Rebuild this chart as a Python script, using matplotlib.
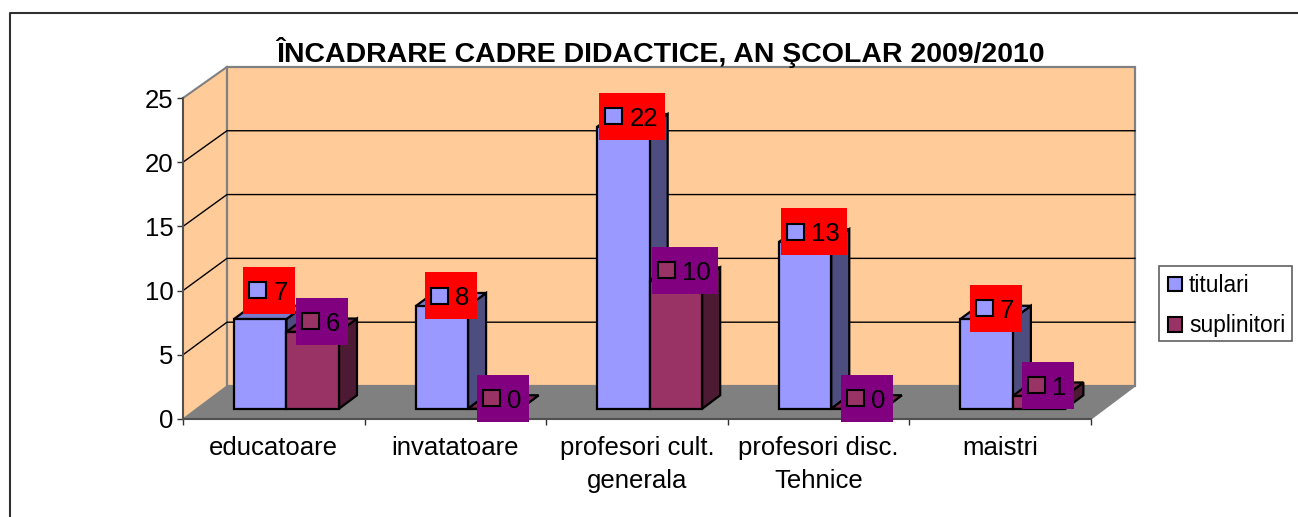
import matplotlib
matplotlib.use('Agg')
import matplotlib.pyplot as plt
from matplotlib.lines import Line2D
from matplotlib.patches import Patch, Polygon, Rectangle

plt.rcParams['font.family'] = ['Liberation Sans', 'DejaVu Sans']

# Data.
title = 'ÎNCADRARE CADRE DIDACTICE, AN ŞCOLAR 2009/2010'
categories = ['educatoare', 'invatatoare', 'profesori cult.\ngenerala',
              'profesori disc.\nTehnice', 'maistri']
titulari = [7, 8, 22, 13, 7]
suplinitori = [6, 0, 10, 0, 1]
series_names = ['titulari', 'suplinitori']
yticks = [0, 5, 10, 15, 20, 25]

W, H = 1298, 517

# Front plane of the 3d box, in pixels.
x0, x1 = 183, 1091
y0, y1 = 419, 98
px_x = (x1 - x0) / len(categories)  # pixels for one category
px_y = (y0 - y1) / yticks[-1]  # pixels for one unit

# Depth of the whole box and of the bars, in data units.
box_dx = 44 / px_x
box_dy = 33 / px_y
back_shrink = 0.006  # back wall is drawn a little shorter than the front
bar_w = 52.5 / px_x
bar_shift = -1 / px_x
bar_front = 0.31
bar_depth = 0.41

colors = ['#9999FF', '#993366']
side_colors = ['#4D4D80', '#4D1A33']
top_colors = ['#7A7ACC', '#7A2952']
label_colors = ['#FF0000', '#800080']

fig = plt.figure(figsize=(W / 100, H / 100), dpi=100)
ax = fig.add_axes([x0 / W, 1 - y0 / H, (x1 - x0) / W, (y0 - y1) / H])
ax.set_xlim(0, len(categories))
ax.set_ylim(0, yticks[-1])
ax.patch.set_visible(False)


def project(x, y, d):
    return (x + d * box_dx, y * (1 - d * back_shrink) + d * box_dy)


def poly(points, fc, ec='black', lw=1.6, z=2):
    ax.add_patch(Polygon(points, closed=True, facecolor=fc, edgecolor=ec,
                         linewidth=lw, clip_on=False, zorder=z, joinstyle='miter'))


n = len(categories)
top = yticks[-1]

# Walls and floor.
poly([project(0, 0, 0), project(0, 0, 1), project(0, top, 1), project(0, top, 0)],
     '#FFCC99', 'none', 0, 1)
poly([project(0, 0, 1), project(n, 0, 1), project(n, top, 1), project(0, top, 1)],
     '#FFCC99', '#808080', 1.6, 1)
poly([project(0, 0, 0), project(n, 0, 0), project(n, 0, 1), project(0, 0, 1)],
     '#808080', '#808080', 1, 1.2)

for v in yticks[1:-1]:
    xs, ys = zip(project(0, v, 0), project(0, v, 1), project(n, v, 1))
    ax.plot(xs, ys, color='black', lw=1, clip_on=False, zorder=1.5)
xs, ys = zip(project(0, top, 0), project(0, top, 1))
ax.plot(xs, ys, color='#808080', lw=1.5, clip_on=False, zorder=1.5)

# Bars, titulari first so that suplinitori covers its side face.
label_specs = []
for i in range(n):
    left = i + (1 - 2 * bar_w) / 2 + bar_shift
    for s, val in enumerate([titulari[i], suplinitori[i]]):
        l = left + s * bar_w
        r = l + bar_w
        d0, d1 = bar_front, bar_front + bar_depth
        z = 3 + i + s * 0.1
        poly([project(r, 0, d0), project(r, 0, d1), project(r, val, d1), project(r, val, d0)],
             side_colors[s], z=z)
        poly([project(l, val, d0), project(r, val, d0), project(r, val, d1), project(l, val, d1)],
             top_colors[s], z=z)
        poly([project(l, 0, d0), project(r, 0, d0), project(r, val, d0), project(l, val, d0)],
             colors[s], z=z)
        label_specs.append((l + bar_w / 2, val, s))

# Data labels: coloured box, legend key and value.
for k, (cx, val, s) in enumerate(label_specs):
    px, py = project(cx, val, bar_front + bar_depth / 2)
    box_w = (52 if val < 10 else 66) / px_x
    box_h = 47 / px_y
    lift = 22 if k == 0 else 4  # first label sits higher in the original
    bx = px - box_w / 2
    by = py + lift / px_y - box_h / 2
    ax.add_patch(Rectangle((bx, by), box_w, box_h, facecolor=label_colors[s],
                           edgecolor='none', clip_on=False, zorder=20))
    ax.add_patch(Rectangle((bx + 6 / px_x, by + box_h / 2 - 8 / px_y), 17 / px_x, 16 / px_y,
                           facecolor=colors[s], edgecolor='black', linewidth=1.5,
                           clip_on=False, zorder=21))
    ax.text(bx + 30 / px_x, by + box_h / 2, str(val), fontsize=18.5, va='center_baseline',
            ha='left', color='black', zorder=22, clip_on=False)

# Axes.
for name in ['top', 'right']:
    ax.spines[name].set_visible(False)
for name in ['left', 'bottom']:
    ax.spines[name].set_color('#505050')
    ax.spines[name].set_linewidth(1.5)
    ax.spines[name].set_zorder(2)
ax.set_yticks(yticks)
ax.set_xticks(range(n + 1))
ax.set_xticklabels([])
ax.set_xticks([i + 0.5 for i in range(n)], minor=True)
ax.set_xticklabels(categories, minor=True, fontsize=18.5, linespacing=1.5)
ax.tick_params(axis='x', which='minor', length=0, pad=12)
ax.tick_params(axis='x', which='major', length=4, width=1, color='#303030')
ax.tick_params(axis='y', length=4, width=1, labelsize=18.5, pad=3, color='#303030')

fig.text(660 / W, 1 - 52 / H, title, fontsize=20.5, fontweight='bold',
         ha='center', va='center')

# Legend: frame drawn on its own so its size can follow the original.
fig.add_artist(Rectangle((1159 / W, 1 - 341 / H), 133 / W, 75 / H, transform=fig.transFigure,
                         facecolor='white', edgecolor='#606060', linewidth=1.2))
handles = [Patch(facecolor=colors[0], edgecolor='black', linewidth=1.5),
           Patch(facecolor=colors[1], edgecolor='black', linewidth=1.5)]
fig.legend(handles, series_names, loc='upper left', bbox_to_anchor=(1168 / W, 1 - 274 / H),
           fontsize=16.4, frameon=False, borderpad=0, labelspacing=0.76,
           handlelength=0.62, handleheight=0.62, handletextpad=0.3, borderaxespad=0)

# Outer frame, cut by the picture edge on the right and at the bottom.
fig.add_artist(Line2D([9.5 / W, 9.5 / W, 1], [0, 1 - 13 / H, 1 - 13 / H], color='#303030', lw=1.5))

fig.savefig('out.png', dpi=100)
print("Done")
